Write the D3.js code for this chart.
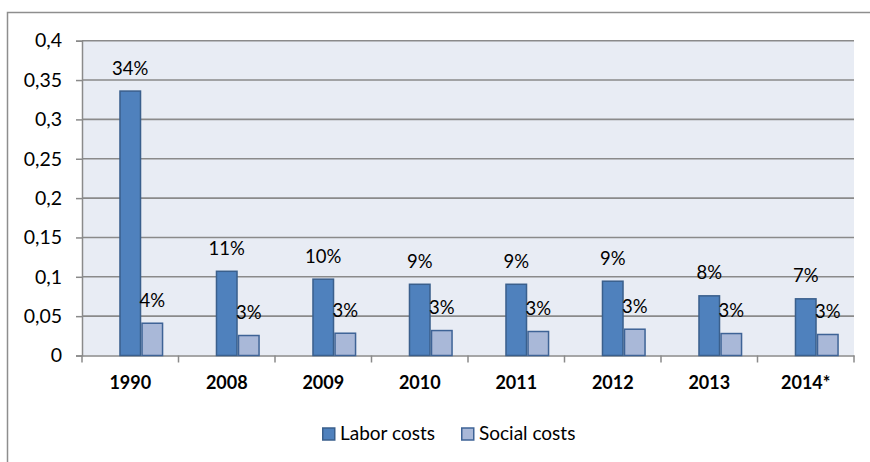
<!DOCTYPE html>
<html>
<head>
<meta charset="utf-8">
<script src="https://cdn.jsdelivr.net/npm/d3@7/dist/d3.min.js"></script>
<style>
  html, body { margin: 0; padding: 0; background: #ffffff; }
  svg { display: block; font-family: Lato, "Open Sans", sans-serif; }
</style>
</head>
<body>
<svg id="chart" width="870" height="462"></svg>
<script>
// Years on the category axis
const years = ["1990", "2008", "2009", "2010", "2011", "2012", "2013", "2014*"];
// Share of labor costs per year
const laborCosts = [0.336, 0.107, 0.097, 0.0905, 0.0905, 0.0944, 0.0758, 0.072];
// Share of social costs per year
const socialCosts = [0.041, 0.0254, 0.0283, 0.0317, 0.0305, 0.0334, 0.0279, 0.0267];
// Value axis ticks
const yTicks = [0, 0.05, 0.1, 0.15, 0.2, 0.25, 0.3, 0.35, 0.4];
const seriesNames = ["Labor costs", "Social costs"];

const svg = d3.select("#chart");
const plot = { left: 82, right: 854, top: 40.7, bottom: 355.5 };
const font = "Lato, 'Open Sans', sans-serif";

// Outer chart frame
svg.append("rect")
  .attr("x", 7.5).attr("y", 12.5)
  .attr("width", 1000).attr("height", 1000)
  .attr("fill", "#ffffff")
  .attr("stroke", "#8e8e8e").attr("stroke-width", 1.5);

const x0 = d3.scaleBand().domain(years).range([plot.left, plot.right]).paddingInner(0).paddingOuter(0);
// Three slots per year; the two series sit in the middle and right slots
const x1 = d3.scaleBand().domain(["lead", "labor", "social"]).range([0, x0.bandwidth()]).paddingOuter(0.69);
const y = d3.scaleLinear().domain([0, 0.4]).range([plot.bottom, plot.top]);

// Plot background
svg.append("rect")
  .attr("x", plot.left).attr("y", plot.top)
  .attr("width", plot.right - plot.left).attr("height", plot.bottom - plot.top)
  .attr("fill", "#e8ecf4");

// Horizontal gridlines
svg.append("g")
  .selectAll("line")
  .data(yTicks.filter(t => t > 0))
  .join("line")
  .attr("x1", plot.left).attr("x2", plot.right)
  .attr("y1", d => y(d)).attr("y2", d => y(d))
  .attr("stroke", "#8a8a8a").attr("stroke-width", 1.6);

// Value axis
const fmtTick = d => d3.format("~g")(d).replace(".", ",");
const yAxis = svg.append("g")
  .attr("transform", `translate(${plot.left},0)`)
  .call(d3.axisLeft(y).tickValues(yTicks).tickFormat(fmtTick).tickSize(6).tickPadding(14));
yAxis.select(".domain").attr("stroke", "#8a8a8a").attr("stroke-width", 1.5);
yAxis.selectAll(".tick line").attr("stroke", "#8a8a8a").attr("stroke-width", 1.5);
yAxis.selectAll(".tick text")
  .attr("font-size", 19.5).attr("fill", "#000")
  .attr("font-family", font);

// Category axis
const xAxis = svg.append("g")
  .attr("transform", `translate(0,${plot.bottom})`)
  .call(d3.axisBottom(x0).tickSize(0).tickPadding(21));
xAxis.select(".domain").attr("stroke", "#8a8a8a").attr("stroke-width", 1.5);
xAxis.selectAll(".tick text")
  .attr("font-size", 18).attr("font-weight", "bold").attr("fill", "#000")
  .attr("font-family", font);
// Category separators below the axis
svg.append("g")
  .selectAll("line")
  .data(d3.range(years.length + 1))
  .join("line")
  .attr("x1", i => plot.left + i * x0.step()).attr("x2", i => plot.left + i * x0.step())
  .attr("y1", plot.bottom).attr("y2", plot.bottom + 7)
  .attr("stroke", "#8a8a8a").attr("stroke-width", 1.5);

const rows = years.map((yr, i) => ({ year: yr, labor: laborCosts[i], social: socialCosts[i] }));
const styles = {
  labor: { fill: "#4f81bd", stroke: "#3a5f8c" },
  social: { fill: "#a9b8d8", stroke: "#3e6396" }
};

const pct = d3.format(".0%");
["labor", "social"].forEach(key => {
  const g = svg.append("g");
  g.selectAll("rect")
    .data(rows)
    .join("rect")
    .attr("x", d => x0(d.year) + x1(key) + 0.75)
    .attr("y", d => y(d[key]))
    .attr("width", x1.bandwidth() - 1.5)
    .attr("height", d => y(0) - y(d[key]))
    .attr("fill", styles[key].fill)
    .attr("stroke", styles[key].stroke)
    .attr("stroke-width", 1.5);
  g.selectAll("text")
    .data(rows)
    .join("text")
    .attr("x", d => x0(d.year) + x1(key) + x1.bandwidth() / 2)
    .attr("y", d => y(d[key]) - 16.5)
    .attr("text-anchor", "middle")
    .attr("font-size", 18.5)
    .attr("fill", "#000")
    .text(d => pct(d[key]));
});

// Legend
const legendItems = [
  { name: seriesNames[0], key: "labor", x: 322 },
  { name: seriesNames[1], key: "social", x: 461 }
];
const lg = svg.append("g");
legendItems.forEach(it => {
  lg.append("rect")
    .attr("x", it.x + 0.75).attr("y", 428)
    .attr("width", 12).attr("height", 12)
    .attr("fill", styles[it.key].fill)
    .attr("stroke", styles[it.key].stroke).attr("stroke-width", 1.5);
  lg.append("text")
    .attr("x", it.x + 18).attr("y", 440)
    .attr("font-size", 19).attr("fill", "#000")
    .text(it.name);
});
</script>
</body>
</html>
